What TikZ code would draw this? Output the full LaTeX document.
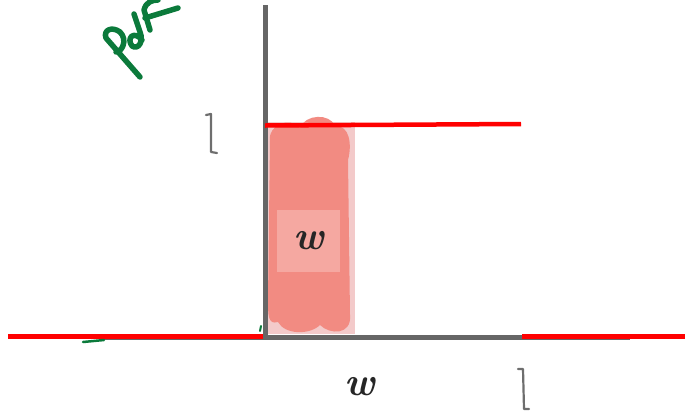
\documentclass[tikz,border=0pt]{standalone}
\usepackage{fontspec}
\definecolor{axisgray}{HTML}{666666}
\definecolor{inkred}{HTML}{FF0000}
\definecolor{salmon}{HTML}{F28B82}
\definecolor{pinkbg}{HTML}{F3CACA}
\definecolor{labelbg}{HTML}{F5A8A1}
\definecolor{inkgreen}{HTML}{0B7A3B}
\definecolor{markgray}{HTML}{6E6E6E}
\tikzset{
  axis/.style={draw=axisgray,line width=5pt},
  redline/.style={draw=inkred,line width=4.5pt},
  greenink/.style={draw=inkgreen,line width=5.5pt,line cap=round,line join=round},
  graymark/.style={draw=markgray,line width=2.2pt,line cap=round,line join=round},
  wlabel/.style={font=\itshape\bfseries\fontsize{40}{42}\selectfont,inner sep=0pt,text=black!85}
}
\begin{document}
\begin{tikzpicture}[x=1pt,y=-1pt]
\useasboundingbox (0,0) rectangle (685,413);
% pink background box
\fill[pinkbg] (266,122) rectangle (355,334);
% salmon blob
\fill[salmon] (270,140) .. controls (268,125) and (290,116) .. (300,128)
  .. controls (305,114) and (330,113) .. (335,126)
  .. controls (350,125) and (352,145) .. (348,160)
  -- (350,315) .. controls (352,335) and (330,335) .. (320,325)
  .. controls (310,335) and (285,335) .. (278,322)
  .. controls (268,325) and (268,315) .. (268,300) -- cycle;
\fill[labelbg] (277,210) rectangle (340,272);
\node[wlabel] (wbox) at (309,241) {w};
% axes
\coordinate (vtop) at (265,5);
\coordinate (vbot) at (265,339);
\draw[axis] (vtop) -- (vbot);
\coordinate (hl) at (100,337);
\coordinate (hr) at (630,337);
\draw[axis] (hl) -- (hr);
% red lines
\coordinate (r1a) at (8,336.5);
\coordinate (r1b) at (263,336.5);
\draw[redline] (r1a) -- (r1b);
\coordinate (r2a) at (522,336.5);
\coordinate (r2b) at (685,336.5);
\draw[redline] (r2a) -- (r2b);
\coordinate (r3a) at (265,125.5);
\coordinate (r3b) at (521,124);
\draw[redline] (r3a) -- (r3b);
% label w below
\node[wlabel] (wbot) at (360,387) {w};
% gray marks
\draw[graymark] (206,115) -- (211,114) -- (211,152) -- (217,153);
\draw[graymark] (518,369) -- (523,369) -- (524,409) -- (529,409);
% green handwriting
\draw[greenink] (140,77) -- (106,38) .. controls (103,30) and (112,26) .. (120,32)
  .. controls (128,40) and (122,52) .. (116,52);
\draw[greenink] (142,40) .. controls (134,30) and (126,38) .. (132,46)
  .. controls (138,50) and (144,42) .. (140,32) -- (134,14);
\draw[greenink] (150,30) -- (144,10) .. controls (146,2) and (152,0) .. (158,0);
\draw[greenink] (145,18) -- (178,8);
\draw[inkgreen,line width=2.5pt,line cap=round] (83,342) -- (104,340);
\draw[inkgreen,line width=2pt,line cap=round] (260,331) -- (261,326);
\end{tikzpicture}
\end{document}
